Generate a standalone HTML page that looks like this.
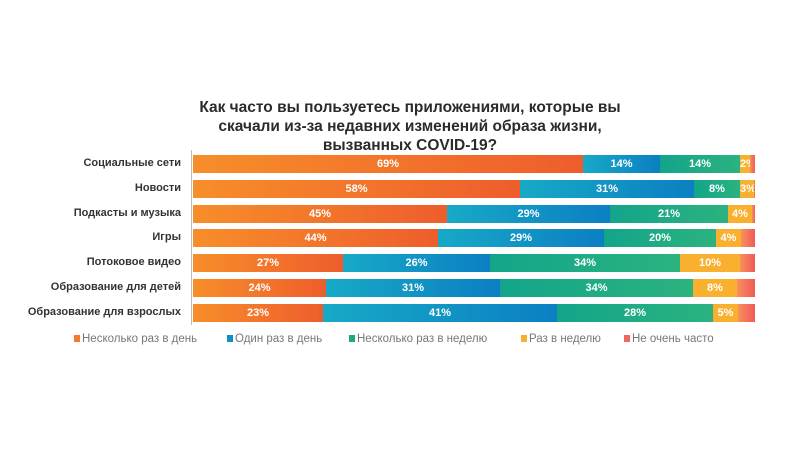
<!DOCTYPE html>
<html><head><meta charset="utf-8"><style>
body{margin:0;width:800px;height:464px;background:#fff;position:relative;overflow:hidden;font-family:"Liberation Sans","DejaVu Sans",sans-serif}
.t{position:absolute;left:180px;width:460px;text-align:center;font-weight:bold;font-size:15.5px;color:#2b2b2b;line-height:19px;top:98px}
.lab{position:absolute;right:619px;font-weight:bold;font-size:11px;color:#333;text-align:right;white-space:nowrap}
.s{position:absolute;height:18px;color:#fff;font-weight:bold;font-size:11px;line-height:18px;text-align:center;overflow:hidden}
.o{background:linear-gradient(90deg,#f78e2a,#ee5d2c)}
.b{background:linear-gradient(90deg,#17a9c6,#0c7fc3)}
.g{background:linear-gradient(90deg,#13a58a,#2bb27f)}
.y{background:#f8b02e}
.r{background:linear-gradient(90deg,#f7925a,#f0595a)}
.leg{position:absolute;top:333px;font-size:11.5px;color:#777;white-space:nowrap}
.leg i{display:inline-block;width:6px;height:7px;margin-right:2px}
</style></head><body>
<div class="t">Как часто вы пользуетесь приложениями, которые вы<br>скачали из-за недавних изменений образа жизни,<br>вызванных COVID-19?</div>
<div style="position:absolute;left:191px;top:150px;width:1px;height:175px;background:#bbb"></div>
<div id="c"></div>
<div class="leg" style="left:74px"><i style="background:#f37a2b"></i>Несколько раз в день</div>
<div class="leg" style="left:227px"><i style="background:#1190c5"></i>Один раз в день</div>
<div class="leg" style="left:349px"><i style="background:#1fa886"></i>Несколько раз в неделю</div>
<div class="leg" style="left:521px"><i style="background:#f8b02e"></i>Раз в неделю</div>
<div class="leg" style="left:624px"><i style="background:#f0655c"></i>Не очень часто</div>
<script>
var rows=[
["Социальные сети",[583,660,740,750],["69%","14%","14%","2%",""]],
["Новости",[520,694,740,754],["58%","31%","8%","3%",""]],
["Подкасты и музыка",[447,610,728,752],["45%","29%","21%","4%",""]],
["Игры",[438,604,716,741],["44%","29%","20%","4%",""]],
["Потоковое видео",[343,490,680,740],["27%","26%","34%","10%",""]],
["Образование для детей",[326,500,693,737],["24%","31%","34%","8%",""]],
["Образование для взрослых",[323,557,713,738],["23%","41%","28%","5%",""]]];
var cls=["o","b","g","y","r"],h="";
rows.forEach(function(r,i){var top=155+i*24.8;
h+='<div class="lab" style="top:'+(top+2)+'px">'+r[0]+'</div>';
var xs=[193].concat(r[1],[755]);
for(var k=0;k<5;k++){h+='<div class="s '+cls[k]+'" style="left:'+xs[k]+'px;top:'+top+'px;width:'+(xs[k+1]-xs[k])+'px">'+r[2][k]+'</div>';}
});
document.getElementById("c").innerHTML=h;
</script>
</body></html>
